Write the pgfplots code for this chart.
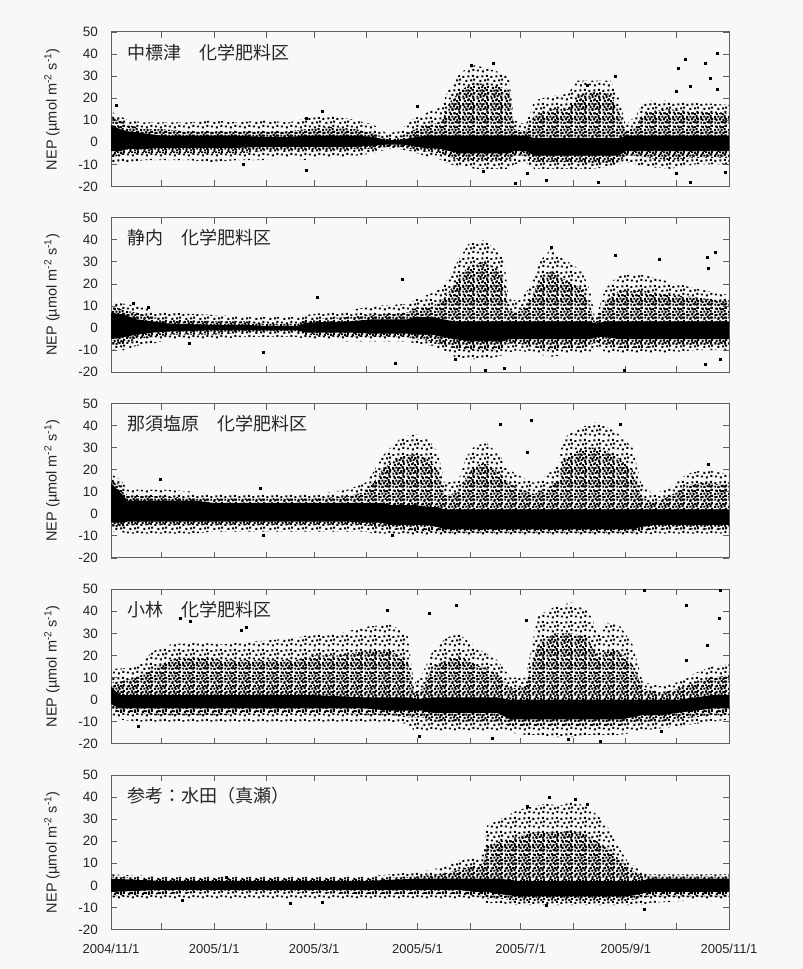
\documentclass[border=0pt]{standalone}
\usepackage{pgfplots}
\pgfplotsset{compat=1.18}
\usepackage{pgfplotstable}
\usepgfplotslibrary{fillbetween}
\usetikzlibrary{patterns}
\usepackage{fontspec}
\setmainfont{Liberation Sans}
\newfontfamily\cjk{Noto Sans CJK JP}

\definecolor{bg}{RGB}{248,248,248}
\definecolor{frame}{RGB}{95,95,95}
\pagecolor{bg}

% scatter texture for the sparse and the dense part of the clouds
\newcommand\pdot[2]{\pgfpathrectangle{\pgfqpoint{#1pt}{#2pt}}{\pgfqpoint{2.1pt}{2.1pt}}}
\pgfdeclarepatternformonly{sparsedots}{\pgfpointorigin}{\pgfqpoint{14pt}{14pt}}{\pgfqpoint{14pt}{14pt}}{%
  \pdot{1.0}{1.6}\pdot{6.4}{0.6}\pdot{11.2}{2.2}\pdot{3.6}{5.4}\pdot{8.6}{5.9}%
  \pdot{0.4}{9.6}\pdot{5.8}{10.2}\pdot{10.6}{10.8}\pdot{11.9}{6.8}%
  \pgfusepath{fill}}
\pgfdeclarepatternformonly{densedots}{\pgfpointorigin}{\pgfqpoint{14pt}{13pt}}{\pgfqpoint{14pt}{13pt}}{%
  \pdot{0.3}{0.4}\pdot{3.9}{0.1}\pdot{7.0}{0.9}\pdot{10.9}{0.3}%
  \pdot{1.8}{3.3}\pdot{5.3}{3.9}\pdot{9.0}{3.0}\pdot{11.9}{4.4}%
  \pdot{0.2}{6.6}\pdot{3.6}{6.9}\pdot{7.2}{6.2}\pdot{10.4}{7.4}%
  \pdot{2.0}{9.8}\pdot{5.6}{10.4}\pdot{8.8}{9.4}\pdot{11.8}{10.8}%
  \pgfusepath{fill}}

% d = days from 2004/11/1; c = dense core, m = dense cloud, o = sparse cloud (top / bottom)
\pgfplotstableread{
d   ct   cb    mt   mb   ot   ob
0   8    -4    12   -7   14   -9
5   6    -4    10   -6   12   -9
10  5    -3    8    -5   10   -9
20  4    -3    6    -5   9    -8
30  3    -2.5  6    -5   9    -8
45  3    -2.5  5    -5   9    -8
60  3    -2.5  5    -5   10   -9
75  3    -2.5  5    -5   9    -8
90  2.5  -2    5    -4   10   -8
105 2.5  -2    5    -4   9    -7
115 3    -2    6    -4   11   -8
130 3    -2    7    -4   12   -7
145 3    -2    6    -3   10   -6
155 2.5  -1.5  4    -3   8    -5
163 1    -1    2    -2   4    -3
170 1    -1    2    -2   5    -3
177 2    -1.5  5    -3   10   -4
185 3    -2.5  8    -4   13   -6
195 3    -3    9    -5   16   -8
200 3    -4    18   -7   25   -10
207 3    -5    24   -8   32   -11
215 3    -5    27   -8   35   -12
225 3    -5    26   -8   33   -12
235 3    -5    24   -8   30   -12
238 3    -4    6    -6   10   -10
245 3    -4    5    -6   8    -9
250 2    -6    12   -9   19   -12
260 2    -6    15   -9   21   -12
270 2    -6    15   -9   22   -12
275 2    -6    21   -9   28   -12
285 2    -6    23   -10  28   -12
295 2    -6    22   -10  28   -11
300 2    -6    14   -9   20   -10
304 3    -4    5    -6   8    -9
310 3    -4    7    -6   12   -10
315 3    -4    14   -7   19   -11
330 3    -4    15   -8   19   -12
345 3    -4    14   -7   18   -10
365 3    -4    13   -7   17   -10
}\nakashibetsu
\pgfplotstableread{
d   v
3   17
335 33.8
339 37.5
351 36
358 40.5
354 29
342 25.5
334 23
358 24
226 36
213 35
181 16.6
125 14.3
115 11
281 26
298 30
288 -18
239 -18.5
257 -17
220 -13
246 -14
342 -18
334 -14
363 -13.5
115 -12.5
78  -10
}\nakashibetsuout

\pgfplotstableread{
d   ct   cb    mt   mb   ot   ob
0   7    -5    10   -8   12   -10
8   6    -4    8    -7   11   -10
15  4    -3    7    -5   10   -8
25  3    -2    5    -4   8    -7
35  2    -1.5  4    -3   7    -5
60  1.5  -1    3    -3   6    -5
80  1.5  -1    3    -2   5    -4
90  1    -1    2    -1.5 5    -4
110 1    -1    2    -1.5 5    -4
115 2.5  -2    4    -3   6    -5
140 3    -2    5    -4   8    -6
155 4    -2.5  6    -4   10   -6
175 4    -2.5  7    -4   11   -6
180 5    -3    9    -5   13   -7
190 5    -3    10   -6   16   -8
196 4    -4    13   -8   19   -10
203 3    -5    20   -9   28   -13
211 3    -6    28   -10  38   -14
220 3    -6    30   -10  40   -14
228 3    -6    27   -10  35   -13
232 3    -6    22   -9   31   -12
235 3    -5    8    -7   14   -11
240 3    -5    7    -7   12   -10
247 3    -5    12   -8   18   -11
253 3    -5    22   -9   30   -12
260 3    -5    26   -10  36   -13
268 3    -5    22   -9   31   -12
278 3    -5    18   -9   26   -12
283 3    -5    10   -8   17   -11
286 2    -4    2    -6   4    -8
292 3    -4    12   -8   18   -11
300 3    -5    17   -9   24   -12
315 3    -5    17   -9   24   -12
330 3    -5    15   -8   21   -11
345 3    -5    14   -8   18   -10
365 3    -5    12   -8   15   -10
}\shizunai
\pgfplotstableread{
d   v
357 34.5
352 32
324 31
298 33
353 27
172 22
122 14
260 36.8
168 -15.8
221 -19
232 -18
303 -19
351 -16.5
360 -14.3
13  11.5
22  9.4
46  -6.8
90  -11
203 -14
}\shizunaiout

\pgfplotstableread{
d   ct   cb    mt   mb   ot   ob
0   14   -4    16   -6   18   -8
5   10   -4    13   -6   16   -8
10  6    -3.5  8    -5   11   -9
30  6    -3.5  8    -5   11   -9
50  6    -3.5  7    -5   10   -9
60  5    -3.5  7    -5   9    -8
90  5    -3.5  7    -5   9    -8
120 5    -3.5  7    -5   9    -8
140 5    -3.5  8    -5   11   -8
150 5    -4    10   -5   14   -8
155 5    -4    14   -6   19   -9
160 5    -4    20   -6   26   -9
165 4    -5    23   -7   30   -9
172 4    -5    26   -7   35   -9
180 4    -5    27   -8   36   -10
187 3    -5    25   -8   34   -10
193 3    -6    20   -8   28   -10
197 2    -7    8    -8.5 14   -10
205 2    -7    10   -8.5 15   -10
210 2    -7    17   -8.5 26   -10
215 2    -7    22   -8.5 31   -10
222 2    -7    23   -8.5 32   -10
230 2    -7    18   -8.5 26   -10
235 2    -7    14   -8.5 20   -10
242 2    -7    11   -8.5 17   -10
250 2    -7    9    -8.5 14   -10
258 2    -7    12   -8.5 18   -10
264 2    -7    15   -8.5 22   -10
267 2    -7    24   -8.5 34   -10
274 2    -7    28   -8.5 38   -10
281 2    -7    30   -8.5 40   -10
288 2    -7    30   -8.5 42   -10
294 2    -7    28   -8.5 39   -10
300 2    -7    25   -8.5 36   -10
308 2    -7    20   -8.5 30   -10
313 2    -6    8    -8   14   -10
320 2    -5    5    -7   9    -9
330 2    -5    8    -7   12   -9
340 2    -5    13   -7   18   -9
350 2    -5    14   -7   20   -9
365 2    -5    13   -7   18   -9
}\nasushiobara
\pgfplotstableread{
d   v
230 40.5
248 42.5
301 40.5
29  15.8
88  11.5
246 27.8
353 22.5
166 -9.5
90  -9.8
}\nasushiobaraout

\pgfplotstableread{
d   ct   cb    mt   mb   ot   ob
0   6    -2    8    -4   14   -7
5   2    -4    8    -6   14   -9
15  2    -4    10   -6   15   -10
25  2    -4    14   -7   22   -10
35  2    -4    18   -7   25   -10
50  2    -4    19   -7   26   -10
65  2    -4    18   -7   25   -10
80  2    -4    18   -6   26   -10
95  2    -4    18   -6   27   -10
110 2    -4    18   -6   28   -10
120 2    -4    20   -6   30   -10
135 1.5  -4    20   -6   30   -10
150 1    -4    22   -7   33   -10
165 1    -5    22   -7   34   -10
175 1    -5    18   -8   30   -11
179 0.5  -5    3    -8   7    -14
184 0.5  -5    5    -8   12   -14
190 1    -6    15   -10  22   -14
198 1    -6    18   -10  28   -14
205 1    -6    20   -10  30   -14
215 1    -6    16   -10  24   -14
228 1    -6    12   -10  18   -14
236 0    -9    5    -12  10   -15
245 0    -9    6    -12  10   -16
252 0    -9    25   -12  38   -16
262 0    -9    30   -12  42   -17
272 0    -9    30   -12  44   -17
282 0    -9    28   -12  40   -16
288 0    -9    18   -12  30   -16
292 0    -9    22   -12  35   -16
300 0    -9    22   -12  34   -16
308 0    -8    16   -11  25   -15
314 0    -7    5    -10  8    -14
325 0    -7    3    -10  6    -13
335 0    -6    5    -9   8    -12
345 1    -5    8    -8   12   -11
355 2    -4    10   -7   15   -10
365 2    -4    11   -7   16   -9
}\kobayashi
\pgfplotstableread{
d   v
41  36.8
47  35.5
80  33
77  31.5
163 40.5
188 39
204 42.8
245 36
340 43
360 49.5
359 36.8
352 24.8
315 49.5
340 18
289 -18.8
182 -16.5
225 -17.3
270 -18
325 -14.3
16  -12
}\kobayashiout

\pgfplotstableread{
d   ct   cb    mt   mb   ot   ob
0   3    -3    4    -5   5    -7
30  2    -2    3    -4   4    -6
60  2    -2    3    -3   4    -6
100 2    -2    3    -3   4    -6
150 2    -2    3    -4   4    -6
180 3    -2    4    -4   6    -6
195 3    -2    5    -4   8    -6
205 3    -2    7    -4   11   -6
215 3    -3    9    -5   13   -7
220 3    -3    10   -5   14   -7
222 3    -3    18   -6   27   -8
230 3    -4    20   -6   30   -8
240 2    -5    22   -7   34   -9
250 2    -5    24   -7   36   -9
258 2    -5    24   -7   37   -9
265 2    -5    24   -7   36   -9
272 2    -5    25   -7   38   -9
280 2    -5    23   -7   36   -9
287 2    -5    20   -7   32   -9
293 2    -5    17   -7   27   -9
300 2    -5    12   -7   17   -9
305 2    -5    8    -7   11   -9
312 2    -4    5    -6   7    -9
318 3    -3    4    -5   5    -8
340 3    -3    4    -5   5    -7
365 3    -3    4    -5   5    -7
}\mase
\pgfplotstableread{
d   v
259 39.8
274 39
281 36.8
246 36
68  3.7
106 -8.3
42  -6.8
125 -7.5
315 -11
257 -9
}\maseout

\pgfplotsset{
  panel/.style={
    scale only axis, width=618pt, height=154.5pt,
    xmin=0, xmax=365, ymin=-20, ymax=50,
    xtick={0,30,61,92,120,151,181,212,242,273,304,334,365},
    xticklabels={},
    ytick={-20,-10,0,10,20,30,40,50},
    yticklabels={-20,-10,0,10,20,30,40,50},
    tick align=inside, xtick pos=both, ytick pos=both,
    xticklabel pos=lower, yticklabel pos=left,
    major tick length=6pt,
    axis line style={draw=frame, line width=1pt},
    tick style={draw=frame, line width=0.9pt},
    tick label style={font=\fontsize{13.5}{15}\selectfont, text=black!85},
    yticklabel style={anchor=east, inner sep=0pt, xshift=-13pt},
    xticklabel style={anchor=north, inner sep=0pt, yshift=-14pt, font=\fontsize{13}{15}\selectfont},
    every axis y label/.style={at={([xshift=-59pt]axis description cs:0,0.5)},
      anchor=center, rotate=90, font=\fontsize{14.5}{16}\selectfont, text=black!85},
    ylabel={NEP (µmol m\textsuperscript{-2} s\textsuperscript{-1})},
    clip=true,
  },
}

\newcommand\cloud[2]{%
  \addplot[draw=none, forget plot, name path=ot#2] table[x=d, y=ot] {#1};
  \addplot[draw=none, forget plot, name path=ob#2] table[x=d, y=ob] {#1};
  \addplot[draw=none, forget plot, name path=mt#2] table[x=d, y=mt] {#1};
  \addplot[draw=none, forget plot, name path=mb#2] table[x=d, y=mb] {#1};
  \addplot[draw=none, forget plot, name path=ct#2] table[x=d, y=ct] {#1};
  \addplot[draw=none, forget plot, name path=cb#2] table[x=d, y=cb] {#1};
  \addplot[pattern=sparsedots, pattern color=black, draw=none, forget plot] fill between[of=ot#2 and ob#2];
  \addplot[pattern=densedots, pattern color=black, draw=none, forget plot] fill between[of=mt#2 and mb#2];
  \addplot[fill=black, draw=none, forget plot] fill between[of=ct#2 and cb#2];
}
\newcommand\outliers[1]{%
  \addplot[only marks, mark=square*, mark size=1pt, black, forget plot] table[x=d, y=v] {#1};
}
\newcommand\paneltitle[1]{%
  \node[anchor=west, inner sep=0pt, font=\cjk\fontsize{18}{20}\selectfont, text=black!85]
    at (axis cs:9.5,40.8) {#1};
}

\begin{document}
\begin{tikzpicture}[x=1pt, y=1pt]
\path (0,0) rectangle (803,969);

\begin{axis}[panel, at={(111pt,782.5pt)}]
  \cloud{\nakashibetsu}{a}
  \outliers{\nakashibetsuout}
  \paneltitle{中標津　化学肥料区}
\end{axis}

\begin{axis}[panel, at={(111pt,596.75pt)}]
  \cloud{\shizunai}{b}
  \outliers{\shizunaiout}
  \paneltitle{静内　化学肥料区}
\end{axis}

\begin{axis}[panel, at={(111pt,411pt)}]
  \cloud{\nasushiobara}{c}
  \outliers{\nasushiobaraout}
  \paneltitle{那須塩原　化学肥料区}
\end{axis}

\begin{axis}[panel, at={(111pt,225.25pt)}]
  \cloud{\kobayashi}{d}
  \outliers{\kobayashiout}
  \paneltitle{小林　化学肥料区}
\end{axis}

\begin{axis}[panel, at={(111pt,39.5pt)},
  xticklabels={2004/11/1,,2005/1/1,,2005/3/1,,2005/5/1,,2005/7/1,,2005/9/1,,2005/11/1}]
  \cloud{\mase}{e}
  \outliers{\maseout}
  \paneltitle{参考：水田（真瀬）}
\end{axis}
\end{tikzpicture}
\end{document}
